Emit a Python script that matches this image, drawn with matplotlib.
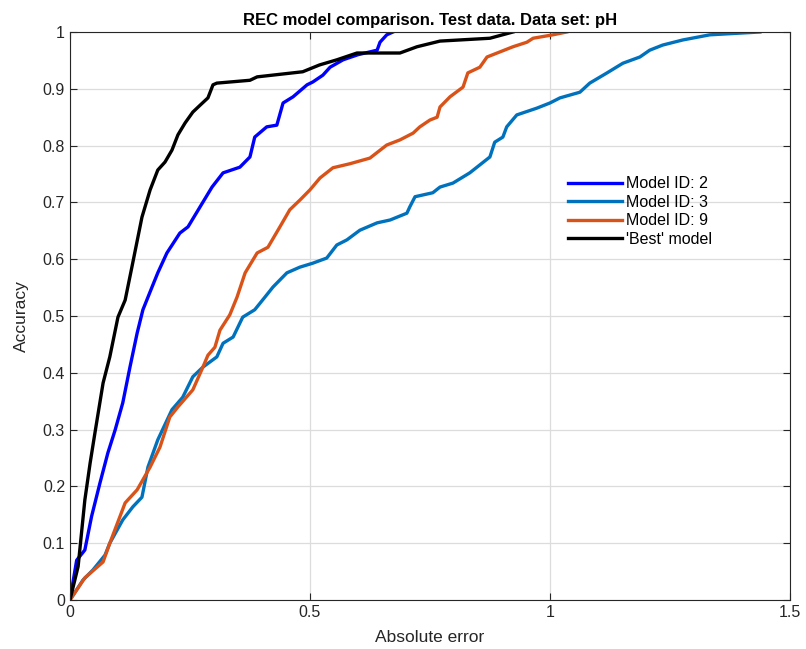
import numpy as np
import matplotlib.pyplot as plt

plt.rcParams['font.family'] = ['Liberation Sans', 'DejaVu Sans']

# REC curves (absolute error, accuracy)
best_x = [0, 0.017, 0.031, 0.042, 0.052, 0.069, 0.083, 0.1, 0.115, 0.129, 0.15, 0.167,
          0.183, 0.198, 0.2125, 0.225, 0.24, 0.256, 0.271, 0.2875, 0.298, 0.306, 0.375,
          0.39, 0.485, 0.52, 0.556, 0.598, 0.6875, 0.723, 0.771, 0.875, 0.923]
best_y = [0, 0.059, 0.176, 0.241, 0.294, 0.382, 0.428, 0.498, 0.528, 0.586, 0.674, 0.722,
          0.757, 0.771, 0.792, 0.819, 0.84, 0.859, 0.871, 0.884, 0.907, 0.91, 0.915,
          0.921, 0.93, 0.942, 0.951, 0.963, 0.963, 0.974, 0.984, 0.989, 1.0]

m2_x = [0, 0.014, 0.031, 0.045, 0.0625, 0.079, 0.094, 0.110, 0.125, 0.140, 0.152, 0.171,
        0.183, 0.202, 0.229, 0.246, 0.271, 0.296, 0.319, 0.354, 0.375, 0.385, 0.410,
        0.431, 0.444, 0.465, 0.494, 0.506, 0.527, 0.542, 0.569, 0.6, 0.640, 0.646,
        0.660, 0.673]
m2_y = [0, 0.070, 0.088, 0.147, 0.206, 0.259, 0.299, 0.347, 0.410, 0.470, 0.511, 0.551,
        0.576, 0.611, 0.646, 0.657, 0.692, 0.727, 0.752, 0.762, 0.780, 0.815, 0.833,
        0.836, 0.875, 0.886, 0.907, 0.912, 0.924, 0.938, 0.951, 0.960, 0.968, 0.982,
        0.995, 1.0]

m3_x = [0, 0.027, 0.048, 0.073, 0.083, 0.110, 0.131, 0.150, 0.1625, 0.183, 0.2125, 0.235,
        0.256, 0.277, 0.306, 0.319, 0.340, 0.360, 0.385, 0.406, 0.423, 0.452, 0.479,
        0.506, 0.535, 0.556, 0.577, 0.604, 0.640, 0.667, 0.702, 0.708, 0.719, 0.756,
        0.771, 0.798, 0.833, 0.854, 0.875, 0.885, 0.902, 0.910, 0.931, 0.973, 1.0,
        1.021, 1.0625, 1.083, 1.119, 1.152, 1.1875, 1.208, 1.235, 1.277, 1.333, 1.4375]
m3_y = [0, 0.035, 0.053, 0.079, 0.100, 0.141, 0.164, 0.181, 0.234, 0.282, 0.335, 0.357,
        0.393, 0.410, 0.428, 0.452, 0.463, 0.498, 0.511, 0.533, 0.551, 0.576, 0.586,
        0.593, 0.602, 0.625, 0.634, 0.651, 0.664, 0.669, 0.681, 0.692, 0.710, 0.717,
        0.727, 0.734, 0.752, 0.766, 0.780, 0.806, 0.815, 0.833, 0.854, 0.866, 0.875,
        0.884, 0.894, 0.910, 0.928, 0.945, 0.956, 0.968, 0.977, 0.986, 0.995, 1.0]

m9_x = [0, 0.031, 0.069, 0.083, 0.115, 0.140, 0.167, 0.1875, 0.208, 0.225, 0.256, 0.277,
        0.2875, 0.302, 0.3125, 0.333, 0.348, 0.365, 0.390, 0.4125, 0.4375, 0.458, 0.479,
        0.5, 0.521, 0.548, 0.583, 0.625, 0.660, 0.6875, 0.715, 0.729, 0.75, 0.765,
        0.771, 0.792, 0.819, 0.829, 0.854, 0.869, 0.896, 0.923, 0.952, 0.965, 1.006, 1.035]
m9_y = [0, 0.039, 0.067, 0.100, 0.171, 0.194, 0.234, 0.269, 0.322, 0.340, 0.370, 0.410,
        0.431, 0.445, 0.475, 0.502, 0.533, 0.576, 0.611, 0.621, 0.657, 0.687, 0.704,
        0.722, 0.743, 0.761, 0.768, 0.778, 0.801, 0.810, 0.822, 0.833, 0.845, 0.850,
        0.868, 0.886, 0.903, 0.928, 0.938, 0.956, 0.965, 0.974, 0.982, 0.989, 0.995, 1.0]

fig = plt.figure(figsize=(8.06, 6.49), dpi=100)
ax = fig.add_axes([0.0868, 0.0755, 0.8932, 0.8752])

ax.plot(m2_x, m2_y, color='#0000ff', lw=2.4, label='Model ID: 2')
ax.plot(m3_x, m3_y, color='#0072BD', lw=2.4, label='Model ID: 3')
ax.plot(m9_x, m9_y, color='#D95319', lw=2.4, label='Model ID: 9')
ax.plot(best_x, best_y, color='black', lw=2.4, label="'Best' model")

ax.set_xlim(0, 1.5)
ax.set_ylim(0, 1)
ax.set_xticks([0, 0.5, 1, 1.5])
ax.set_xticklabels(['0', '0.5', '1', '1.5'])
yt = np.round(np.arange(0, 1.01, 0.1), 1)
ax.set_yticks(yt)
ax.set_yticklabels(['0'] + [f'{v:g}' for v in yt[1:-1]] + ['1'])
ax.tick_params(direction='in', top=True, right=True, labelsize=11.5, length=5,
               color='#262626', labelcolor='#262626')
ax.grid(True, color='#dcdcdc', linewidth=0.9)
ax.set_axisbelow(True)
for s in ax.spines.values():
    s.set_color('#262626')
    s.set_linewidth(0.8)

ax.set_xlabel('Absolute error', fontsize=12.5, color='#262626', labelpad=7)
ax.set_ylabel('Accuracy', fontsize=12.5, color='#262626', labelpad=10)
ax.set_title('REC model comparison. Test data. Data set: pH', fontsize=12,
             fontweight='bold', pad=5)

ax.legend(loc='upper left', bbox_to_anchor=(0.683, 0.757), frameon=False,
          fontsize=11.5, handlelength=3.4, handletextpad=0.2, labelspacing=0.22,
          borderaxespad=0)

fig.savefig('out.png', dpi=100)
